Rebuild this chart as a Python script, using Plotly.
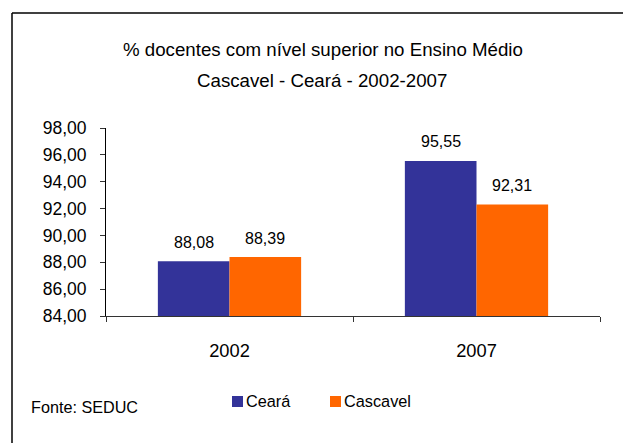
import plotly.graph_objects as go

years = ["2002", "2007"]
ceara = [88.08, 95.55]
cascavel = [88.39, 92.31]
ceara_labels = ["88,08", "95,55"]
cascavel_labels = ["88,39", "92,31"]
series_names = ["Ceará", "Cascavel"]
series_colors = ["#333399", "#FF6600"]
y_ticks = [84, 86, 88, 90, 92, 94, 96, 98]
y_tick_text = ["84,00", "86,00", "88,00", "90,00", "92,00", "94,00", "96,00", "98,00"]

OFF = 8  # page body margin
W, H = 631 - OFF, 443 - OFF
L, T = 106 - OFF, 128 - OFF
R = W - (600 - OFF)
B = H - (316 - OFF)
pw, ph = W - L - R, H - T - B
BARGAP = 0.42
FONT = "Liberation Sans, Arial, sans-serif"


def px(x):
    return (x - OFF - L) / pw


def py(y):
    return (H - B - (y - OFF)) / ph


fig = go.Figure()
fig.add_trace(go.Bar(name=series_names[0], x=years, y=ceara,
                     marker=dict(color=series_colors[0], line=dict(width=0))))
fig.add_trace(go.Bar(name=series_names[1], x=years, y=cascavel,
                     marker=dict(color=series_colors[1], line=dict(width=0))))

bar_px = pw / len(years) * (1 - BARGAP) / 2
ann = []
for i, (v, t) in enumerate(zip(ceara, ceara_labels)):
    ann.append(dict(x=i, y=v, text=t, showarrow=False, xref="x", yref="y",
                    xshift=-bar_px / 2, yshift=19, yanchor="middle",
                    font=dict(size=16, color="black", family=FONT)))
for i, (v, t) in enumerate(zip(cascavel, cascavel_labels)):
    ann.append(dict(x=i, y=v, text=t, showarrow=False, xref="x", yref="y",
                    xshift=bar_px / 2, yshift=19, yanchor="middle",
                    font=dict(size=16, color="black", family=FONT)))

ann.append(dict(x=px(323), y=py(50), xref="paper", yref="paper", showarrow=False,
                text="% docentes com nível superior no Ensino Médio", xanchor="center", yanchor="middle",
                font=dict(size=18.7, color="black", family=FONT)))
ann.append(dict(x=px(322), y=py(80), xref="paper", yref="paper", showarrow=False,
                text="Cascavel - Ceará - 2002-2007", xanchor="center", yanchor="middle",
                font=dict(size=18.7, color="black", family=FONT)))
ann.append(dict(x=px(29), y=py(407), xref="paper", yref="paper", showarrow=False,
                text="Fonte: SEDUC", xanchor="left", yanchor="middle",
                font=dict(size=16.2, color="black", family=FONT)))

# outer frame: only top and left sides are visible in the reference
frame = dict(color="black", width=1.5)
shapes = [
    dict(type="line", xref="paper", yref="paper", x0=px(12), x1=px(640), y0=py(13), y1=py(13), line=frame),
    dict(type="line", xref="paper", yref="paper", x0=px(12), x1=px(12), y0=py(13), y1=py(460), line=frame),
]
# manual legend (square marker + label)
legend_x = [232, 330]
for name, color, lx in zip(series_names, series_colors, legend_x):
    shapes.append(dict(type="rect", xref="paper", yref="paper",
                       x0=px(lx), x1=px(lx + 11), y0=py(407), y1=py(396),
                       line=dict(width=0), fillcolor=color))
    ann.append(dict(x=px(lx + 12), y=py(401), xref="paper", yref="paper", showarrow=False,
                    text=name, xanchor="left", yanchor="middle",
                    font=dict(size=16.3, color="black", family=FONT)))

fig.update_layout(
    width=W, height=H,
    margin=dict(l=L, r=R, t=T, b=B),
    paper_bgcolor="white", plot_bgcolor="white",
    barmode="group", bargap=BARGAP, bargroupgap=0,
    showlegend=False,
    annotations=ann,
    shapes=shapes,
    xaxis=dict(type="category", tickson="boundaries", ticks="outside", ticklen=5,
               tickcolor="#333", showline=True, linecolor="#333", linewidth=1,
               showgrid=False, zeroline=False, ticklabelstandoff=18,
               tickfont=dict(size=18.3, color="black", family=FONT)),
    yaxis=dict(range=[84, 98], tickvals=y_ticks, ticktext=y_tick_text, ticks="outside",
               ticklen=5, tickcolor="#333", showline=True, linecolor="black", linewidth=1,
               showgrid=False, zeroline=False, ticklabelstandoff=10,
               tickfont=dict(size=17.5, color="black", family=FONT)),
)

fig.write_html("out.html")
